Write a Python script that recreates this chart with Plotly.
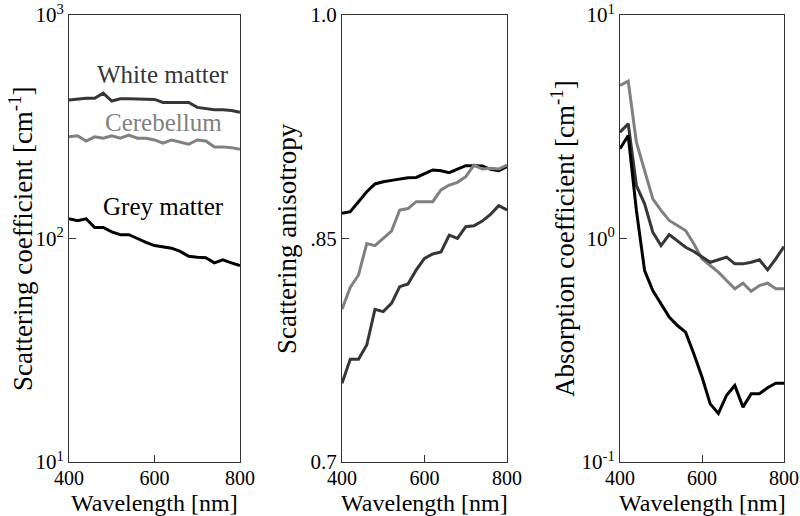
import plotly.graph_objects as go

wavelength = [400, 420, 440, 460, 480, 500, 520, 540, 560, 580, 600,
              620, 640, 660, 680, 700, 720, 740, 760, 780, 800]

# Scattering coefficient [cm^-1]
mus_white = [417, 422, 424, 424, 447, 412, 422, 422, 422, 422, 419,
             406, 406, 406, 406, 386, 382, 377, 377, 374, 367]
mus_cereb = [285, 288, 273, 285, 281, 288, 281, 290, 281, 281, 276,
             267, 276, 269, 264, 276, 273, 257, 257, 255, 251]
mus_grey = [122.5, 120, 122.5, 112, 112, 107, 104, 104, 100, 96, 93,
            92, 90.5, 87.5, 83.3, 82.5, 82, 77.8, 80.3, 77.8, 75.7]

# Scattering anisotropy
g_grey = [0.8669, 0.868, 0.8747, 0.8814, 0.8866, 0.8881, 0.889, 0.8899, 0.8908, 0.891, 0.8933,
          0.896, 0.8955, 0.8942, 0.8966, 0.8989, 0.8989, 0.8987, 0.8964, 0.8955, 0.8982]
g_cereb = [0.8025, 0.8172, 0.8255, 0.8466, 0.8452, 0.85, 0.855, 0.8691, 0.8701, 0.8747, 0.8747,
           0.8747, 0.8826, 0.8859, 0.8877, 0.8915, 0.8993, 0.8966, 0.8971, 0.8966, 0.8993]
g_white = [0.7528, 0.7689, 0.7689, 0.7785, 0.8025, 0.8009, 0.8065, 0.8177, 0.8195, 0.8289, 0.8367,
           0.8396, 0.841, 0.8523, 0.8501, 0.8579, 0.8586, 0.8617, 0.8662, 0.872, 0.8691]

# Absorption coefficient [cm^-1]
mua_cereb = [4.84, 5.06, 2.70, 2.01, 1.505, 1.335, 1.204, 1.143, 1.086, 0.947, 0.811,
             0.757, 0.707, 0.649, 0.596, 0.631, 0.581, 0.616, 0.631, 0.596, 0.596]
mua_white = [2.99, 3.26, 1.726, 1.43, 1.067, 0.930, 1.042, 0.98, 0.914, 0.875, 0.825,
             0.783, 0.803, 0.825, 0.77, 0.77, 0.783, 0.803, 0.724, 0.811, 0.921]
mua_grey = [2.52, 2.89, 1.335, 0.719, 0.585, 0.51, 0.445, 0.408, 0.381, 0.305, 0.24,
            0.182, 0.165, 0.199, 0.22, 0.176, 0.202, 0.202, 0.215, 0.225, 0.225]

x_ticks = [400, 600, 800]
x_ticklabels = ["400", "600", "800"]
mus_ticks = [10, 100, 1000]
mus_ticklabels = ["10<sup>1</sup>", "10<sup>2</sup>", "10<sup>3</sup>"]
g_ticks = [0.7, 0.85, 1.0]
g_ticklabels = ["0.7", ".85", "1.0"]
mua_ticks = [0.1, 1, 10]
mua_ticklabels = ["10<sup>-1</sup>", "10<sup>0</sup>", "10<sup>1</sup>"]

C_GREY = "#000000"
C_WHITE = "#363636"
C_CEREB = "#808080"
FONT = "Liberation Serif"
W, H = 800, 516

fig = go.Figure()

def add(x, y, color, xa, ya, name):
    fig.add_trace(go.Scatter(x=x, y=y, mode="lines", name=name,
                             line=dict(color=color, width=3),
                             xaxis=xa, yaxis=ya, showlegend=False))

add(wavelength, mus_white, C_WHITE, "x", "y", "White matter")
add(wavelength, mus_cereb, C_CEREB, "x", "y", "Cerebellum")
add(wavelength, mus_grey, C_GREY, "x", "y", "Grey matter")
add(wavelength, g_grey, C_GREY, "x2", "y2", "Grey matter")
add(wavelength, g_cereb, C_CEREB, "x2", "y2", "Cerebellum")
add(wavelength, g_white, C_WHITE, "x2", "y2", "White matter")
add(wavelength, mua_cereb, C_CEREB, "x3", "y3", "Cerebellum")
add(wavelength, mua_white, C_WHITE, "x3", "y3", "White matter")
add(wavelength, mua_grey, C_GREY, "x3", "y3", "Grey matter")

px = [(69, 240), (342, 507), (620, 784)]
ytop, ybot = 15, 462
ydom = [1 - ybot / H, 1 - ytop / H]

common_x = dict(range=[400, 800], tickvals=x_ticks, ticktext=x_ticklabels,
                ticks="inside", ticklen=7, tickwidth=1, tickcolor="#333",
                showline=True, linecolor="#333", linewidth=1, mirror=True,
                showgrid=False, zeroline=False, automargin=False,
                ticklabelstandoff=-2,
                tickfont=dict(family=FONT, size=20, color="#000"))
common_y = dict(ticks="inside", ticklen=7, tickwidth=1, tickcolor="#333",
                showline=True, linecolor="#333", linewidth=1, mirror=True,
                showgrid=False, zeroline=False, automargin=False,
                tickfont=dict(family=FONT, size=21, color="#000"))

layout = dict(
    width=W, height=H, margin=dict(l=0, r=0, t=0, b=0),
    paper_bgcolor="white", plot_bgcolor="white",
    font=dict(family=FONT, color="#000"),
)
for i, (a, b) in enumerate(px):
    sx = "" if i == 0 else str(i + 1)
    layout["xaxis" + sx] = dict(common_x, domain=[a / W, b / W], anchor="y" + sx)
layout["yaxis"] = dict(common_y, type="log", range=[1, 3], tickvals=mus_ticks,
                       ticktext=mus_ticklabels, domain=ydom, anchor="x")
layout["yaxis2"] = dict(common_y, range=[0.7, 1.0], tickvals=g_ticks,
                        ticktext=g_ticklabels, domain=ydom, anchor="x2")
layout["yaxis3"] = dict(common_y, type="log", range=[-1, 1], tickvals=mua_ticks,
                        ticktext=mua_ticklabels, domain=ydom, anchor="x3")
fig.update_layout(**layout)

ann = []
ycen = 1 - 239 / H
for (a, b) in px:
    ann.append(dict(text="Wavelength [nm]", x=(a + b) / 2 / W, y=1 - 503 / H,
                    xref="paper", yref="paper", showarrow=False,
                    xanchor="center", yanchor="middle",
                    font=dict(family=FONT, size=24, color="#000")))
for txt, xc in [("Scattering coefficient [cm<sup>-1</sup>]", 21),
                ("Scattering anisotropy", 287),
                ("Absorption coefficient [cm<sup>-1</sup>]", 563)]:
    ann.append(dict(text=txt, x=xc / W, y=ycen, xref="paper", yref="paper",
                    showarrow=False, textangle=-90, xanchor="center", yanchor="middle",
                    font=dict(family=FONT, size=27, color="#000")))
for txt, yv, col in [("White matter", 2.736, C_WHITE),
                     ("Cerebellum", 2.521, C_CEREB),
                     ("Grey matter", 2.1454, C_GREY)]:
    ann.append(dict(text=txt, x=620, y=yv, xref="x", yref="y", showarrow=False,
                    xanchor="center", yanchor="middle",
                    font=dict(family=FONT, size=25, color=col)))
fig.update_layout(annotations=ann)

fig.write_html("out.html", config={"displayModeBar": False},
               post_script="document.body.style.margin='0';document.body.style.padding='0';")
